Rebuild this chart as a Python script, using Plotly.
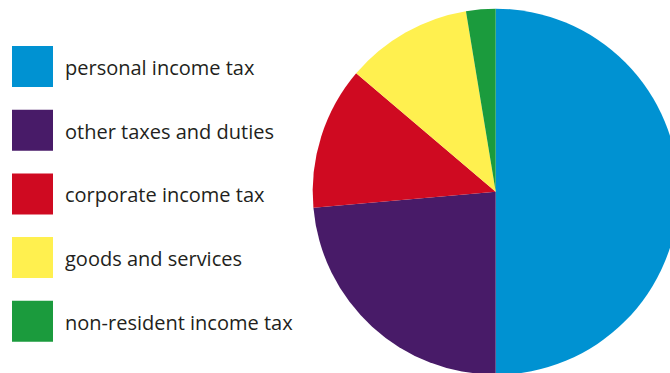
import plotly.graph_objects as go

categories = ["personal income tax", "other taxes and duties", "corporate income tax",
              "goods and services", "non-resident income tax"]
values = [50.0, 23.6, 12.6, 11.2, 2.6]
colors = ["#0092d2", "#481b68", "#cf0a21", "#fff04f", "#1b9b3d"]

W, H = 690, 380

def px(x):
    return x / W

def py(y):
    return 1 - y / H

fig = go.Figure(go.Pie(
    labels=categories, values=values, sort=False, direction="clockwise",
    rotation=0, marker=dict(colors=colors, line=dict(width=0)),
    textinfo="none", hoverinfo="skip", showlegend=False,
    domain=dict(x=[px(312.7), px(678.7)], y=[py(374.7), py(8.7)]),
))

shapes, annotations = [], []
top0, step, size = 46, 63.7, 41
for i, (cat, col) in enumerate(zip(categories, colors)):
    t = top0 + i * step
    shapes.append(dict(type="rect", xref="paper", yref="paper",
                       x0=px(12), x1=px(12 + size),
                       y0=py(t + size), y1=py(t),
                       fillcolor=col, line=dict(width=0)))
    annotations.append(dict(text=cat, xref="paper", yref="paper",
                            x=px(63), y=py(t + size / 2 + 1),
                            xanchor="left", yanchor="middle", showarrow=False,
                            font=dict(family="Open Sans", size=20, color="#231f20")))

fig.update_layout(width=W, height=H, margin=dict(l=0, r=0, t=0, b=0),
                  paper_bgcolor="white", plot_bgcolor="white", hovermode=False,
                  shapes=shapes, annotations=annotations)
fig.write_html(
    "out.html",
    config={"displayModeBar": False, "staticPlot": True},
    post_script="document.body.style.margin='0';"
                "document.documentElement.style.overflow='hidden';"
                "document.body.style.overflow='hidden';",
)
